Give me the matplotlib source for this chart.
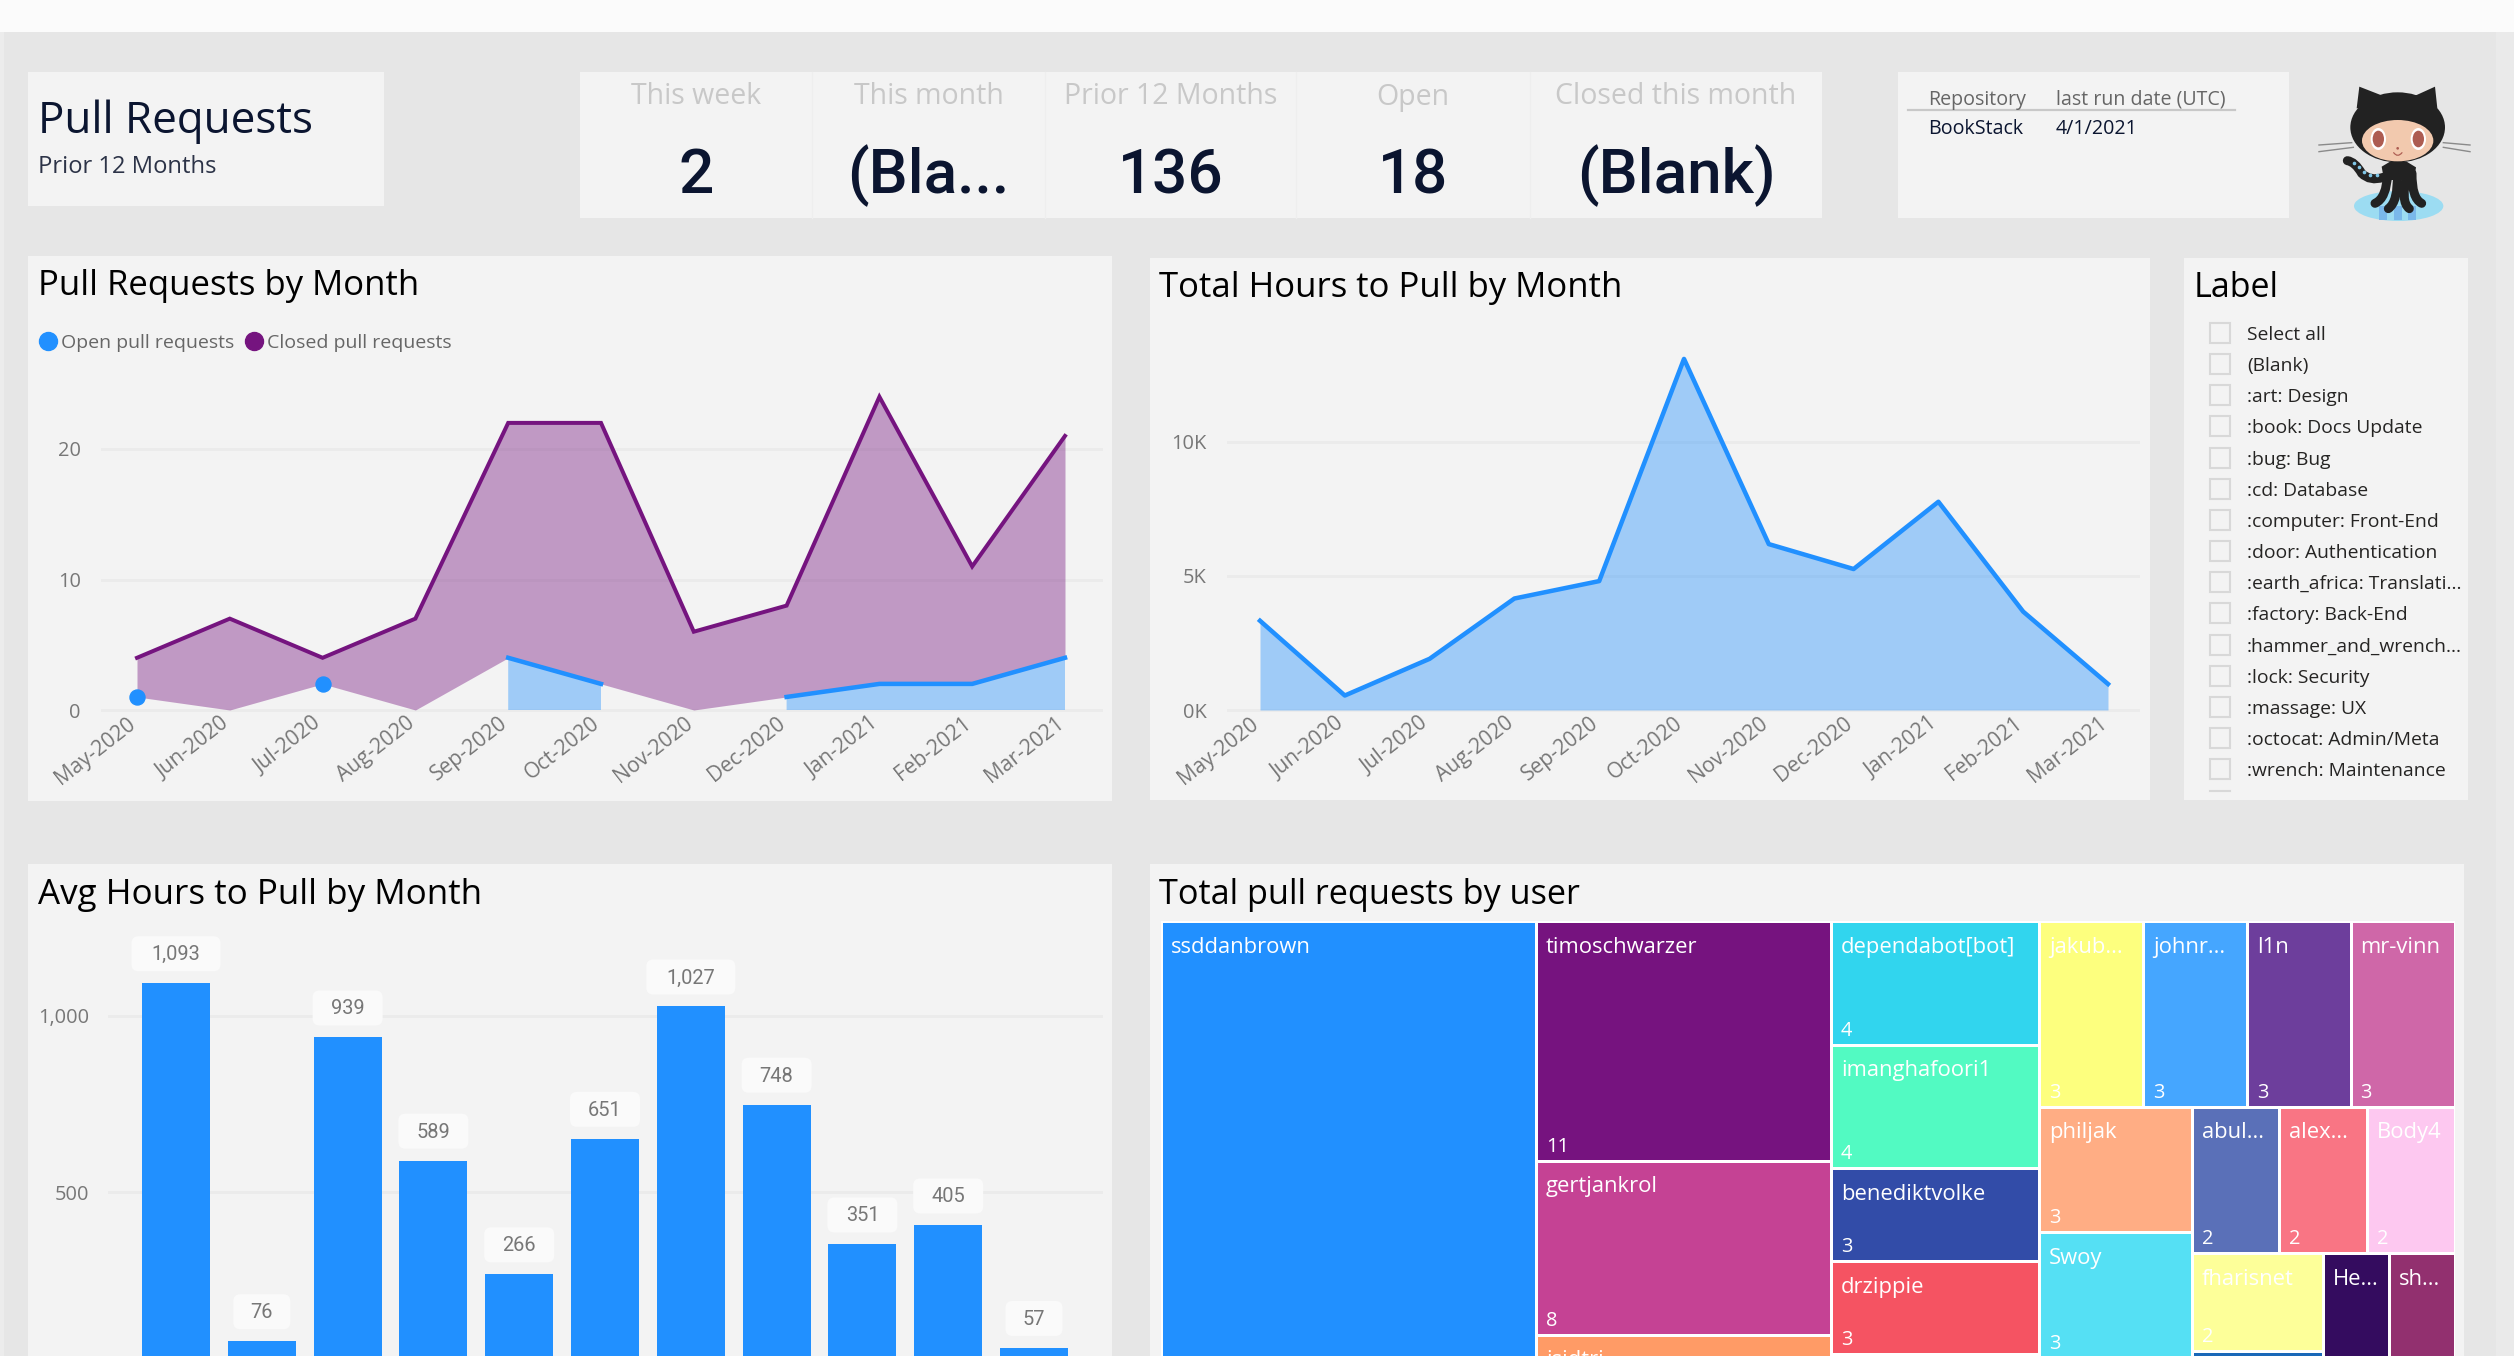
import numpy as np
import matplotlib
matplotlib.use('Agg')
import matplotlib.pyplot as plt
from matplotlib.patches import Rectangle, Ellipse, Polygon, PathPatch, FancyBboxPatch
from matplotlib.path import Path
from matplotlib.transforms import Affine2D, IdentityTransform

plt.rcParams['font.family'] = ['Open Sans', 'DejaVu Sans']

W, H = 2514, 1356

months = ['May-2020', 'Jun-2020', 'Jul-2020', 'Aug-2020', 'Sep-2020', 'Oct-2020',
          'Nov-2020', 'Dec-2020', 'Jan-2021', 'Feb-2021', 'Mar-2021']
closed_prs = [4, 7, 4, 7, 22, 22, 6, 8, 24, 11, 21]
open_prs = [1, np.nan, 2, np.nan, 4, 2, np.nan, 1, 2, 2, 4]
total_hours = [3330, 540, 1910, 4160, 4810, 13100, 6190, 5260, 7770, 3670, 970]
avg_hours = [1093, 76, 939, 589, 266, 651, 1027, 748, 351, 405, 57]

kpi_titles = ['This week', 'This month', 'Prior 12 Months', 'Open', 'Closed this month']
kpi_values = ['2', '(Bla...', '136', '18', '(Blank)']

slicer_items = ['Select all', '(Blank)', ':art: Design', ':book: Docs Update', ':bug: Bug',
                ':cd: Database', ':computer: Front-End', ':door: Authentication',
                ':earth_africa: Translati...', ':factory: Back-End', ':hammer_and_wrench...',
                ':lock: Security', ':massage: UX', ':octocat: Admin/Meta', ':wrench: Maintenance']

users = ['ssddanbrown', 'timoschwarzer', 'gertjankrol', 'isidtri', 'dependabot[bot]',
         'imanghafoori1', 'benediktvolke', 'drzippie', '', 'jakub...', 'johnr...', 'l1n',
         'mr-vinn', 'philjak', 'Swoy', '', 'abul...', 'alex...', 'Body4', 'fharisnet', '',
         'He...', 'sh...']
user_counts = [28, 11, 8, 3, 4, 4, 3, 3, 1.5, 3, 3, 3, 3, 3, 3, 1, 2, 2, 2, 2, 1, 1.5, 1.5]
user_colors = ['#2190ff', '#76137f', '#c54294', '#ff9b66', '#31d5ee', '#52fac2', '#324ca8',
               '#f55362', '#fbd0ee', '#fdff7e', '#45a6ff', '#6d3e9c', '#cf67a8', '#ffad84',
               '#55e0f4', '#2b9fb0', '#5a70b8', '#f97584', '#fdc8f0', '#fdff99', '#1a68b8',
               '#340c5f', '#92306f']
# columns and rows of the treemap, as indexes into users
user_tree = [0, [1, 2, 3], [4, 5, 6, 7, 8],
             [[9, 10, 11, 12], [[13, 14, 15], [[16, 17, 18], [[19, 20], 21, 22]]]]]

BG = '#e6e6e6'
PANEL = '#f3f3f3'
BLUE = '#2190ff'
PURPLE = '#75147f'
NAVY = '#0b1530'
GREY = '#777777'
GRID = '#ebebeb'


def px(n):
    return n * 0.72


fig = plt.figure(figsize=(W / 100, H / 100), dpi=100, facecolor=BG)
page = fig.add_axes([0, 0, 1, 1], zorder=0)
page.set_xlim(0, W)
page.set_ylim(H, 0)
page.axis('off')


def box(x0, y0, x1, y1, color=PANEL, **kw):
    page.add_patch(Rectangle((x0, y0), x1 - x0, y1 - y0, fc=color, ec='none', **kw))


def label(x, y, s, size, color='black', ha='left', **kw):
    page.text(x, y, s, fontsize=px(size), color=color, ha=ha, va='center', **kw)


def px_axes(x0, y0, x1, y1, zorder=2):
    ax = fig.add_axes([x0 / W, 1 - y1 / H, (x1 - x0) / W, (y1 - y0) / H], zorder=zorder)
    ax.patch.set_alpha(0)
    for s in ax.spines.values():
        s.set_visible(False)
    return ax


def month_axes(x0, y0, x1, y1, first, last, per_px, zero_y):
    # first/last: pixel x of the first and last month, per_px: value units per pixel
    ax = px_axes(x0, y0, x1, y1)
    step = (last - first) / (len(months) - 1)
    ax.set_xlim((x0 - first) / step, (x1 - first) / step)
    ax.set_ylim((zero_y - y1) * per_px, (zero_y - y0) * per_px)
    ax.grid(axis='y', color=GRID, lw=px(3))
    ax.set_axisbelow(True)
    ax.tick_params(length=0, labelcolor=GREY, labelsize=px(20), pad=px(20))
    return ax


def month_ticks(ax):
    ax.set_xticks(range(len(months)))
    ax.set_xticklabels(months, rotation=38, ha='right', rotation_mode='anchor', fontsize=px(21))
    ax.tick_params(axis='x', pad=px(9))
    shift = Affine2D().translate(-10, 8)
    for t in ax.get_xticklabels():
        t.set_transform(t.get_transform() + shift)


# page chrome
box(0, 0, W, 32, '#fbfbfb')
box(0, 32, 4, H, '#ececec')
box(2496, 32, W, H, '#eaeaea')

# header cards
box(28, 72, 384, 206)
label(38, 122, 'Pull Requests', 44, NAVY)
label(38, 167, 'Prior 12 Months', 23.7, '#2c3347')

kpi_edges = [580, 812, 1045, 1296, 1530, 1822]
for i in range(len(kpi_titles)):
    box(kpi_edges[i], 72, kpi_edges[i + 1], 218)
    if i:
        page.plot([kpi_edges[i]] * 2, [72, 218], color='#eeeeee', lw=1)
    mid = (kpi_edges[i] + kpi_edges[i + 1]) / 2
    label(mid, 97, kpi_titles[i], 28.5, '#c8c8c8', ha='center')
    label(mid, 176, kpi_values[i], 62, NAVY, ha='center', family=['Roboto', 'DejaVu Sans'], weight='medium')

box(1898, 72, 2289, 218)
page.plot([1908, 2235], [110, 110], color='#c8c8c8', lw=1.6)
label(1928, 100, 'Repository', 19.6, '#666666')
label(2056, 100, 'last run date (UTC)', 19.6, '#666666')
label(1928, 129, 'BookStack', 19.6, NAVY)
label(2056, 129, '4/1/2021', 19.6, NAVY)


# octocat
def cat(X, Y):
    return 2290 + X / 3, 70 + Y / 3


def cat_ell(X, Y, rx, ry, color):
    page.add_patch(Ellipse(cat(X, Y), 2 * rx / 3, 2 * ry / 3, fc=color, ec='none'))


def cat_curve(pts, lw, color='#222222', cap='round'):
    verts = [cat(*p) for p in pts]
    codes = [Path.MOVETO] + [Path.CURVE3] * (len(verts) - 1)
    page.add_patch(PathPatch(Path(verts, codes), fc='none', ec=color, lw=px(lw), capstyle=cap))


cat_ell(326, 408, 134, 45, '#9cdcf2')
for sx in [280, 325, 365]:
    page.add_patch(Rectangle(cat(sx - 12, 408), 8, 14, fc='#7ab8ea', ec='none'))
for a, b in [((185, 218), (87, 225)), ((190, 232), (87, 245)), ((460, 218), (540, 225)), ((460, 232), (540, 245))]:
    page.plot(*zip(cat(*a), cat(*b)), color='#8a8a8a', lw=1)
cat_curve([(280, 322), (240, 335), (215, 310), (195, 275), (172, 272)], 9)
for k in range(5):
    pts = [(262, 314), (240, 314), (222, 306), (208, 292), (192, 280)]
    page.plot(*cat(*pts[k]), 'o', color='#7fc6e8', ms=1.6)
page.add_patch(Polygon([cat(*p) for p in [(275, 290), (300, 275), (350, 275), (378, 292), (372, 330), (282, 330)]],
                       fc='#222222', ec='none'))
cat_curve([(293, 310), (290, 385), (255, 400)], 9)
cat_curve([(322, 310), (325, 395), (295, 416)], 9)
cat_curve([(352, 310), (330, 395), (358, 416)], 9)
cat_curve([(366, 310), (365, 385), (395, 400)], 9)
page.add_patch(Polygon([cat(*p) for p in [(200, 115), (208, 50), (272, 75), (380, 75), (435, 50), (442, 115)]],
                       fc='#222222', ec='none', joinstyle='round'))
cat_ell(323, 172, 142, 105, '#222222')
cat_ell(323, 212, 107, 62, '#f2c9ae')
for ex in [265, 385]:
    cat_ell(ex, 207, 23, 33, 'white')
    cat_ell(ex, 207, 17, 25, '#ad5c51')
cat_ell(323, 235, 4, 4, '#ad5c51')
cat_curve([(311, 248), (323, 264), (336, 248)], 1.2, '#ad5c51')

# Pull Requests by Month
box(28, 256, 1112, 801)
label(38, 286, 'Pull Requests by Month', 34.8)
page.plot(48, 341, 'o', color=BLUE, ms=px(18))
label(61, 343, 'Open pull requests', 19.5, '#666666')
page.plot(254, 341, 'o', color=PURPLE, ms=px(18))
label(267, 343, 'Closed pull requests', 19.5, '#666666')

ax1 = month_axes(101, 300, 1103, 712, 137, 1065, 10 / 130.5, 710)
x = np.arange(len(months))
opens = np.array(open_prs, dtype=float)
ax1.fill_between(x, np.nan_to_num(opens), closed_prs, color=PURPLE, alpha=0.4, lw=0)
ax1.fill_between(x, 0, opens, color=BLUE, alpha=0.4, lw=0)
ax1.plot(x, closed_prs, color=PURPLE, lw=px(4), solid_joinstyle='miter', clip_on=False)
ax1.plot(x, opens, color=BLUE, lw=px(4.5), clip_on=False)
lone = [i for i in x if not np.isnan(opens[i])
        and (i == 0 or np.isnan(opens[i - 1])) and (i == len(x) - 1 or np.isnan(opens[i + 1]))]
ax1.plot(lone, opens[lone], 'o', color=BLUE, ms=px(15), clip_on=False)
ax1.set_yticks([0, 10, 20])
month_ticks(ax1)

# Total Hours to Pull by Month
box(1150, 258, 2150, 800)
label(1159, 288, 'Total Hours to Pull by Month', 34.8)
ax2 = month_axes(1227, 300, 2140, 712, 1260, 2108, 5000 / 134, 710)
ax2.fill_between(x, 0, total_hours, color=BLUE, alpha=0.4, lw=0)
ax2.plot(x, total_hours, color=BLUE, lw=px(4.5), clip_on=False)
ax2.set_yticks([0, 5000, 10000])
ax2.set_yticklabels(['0K', '5K', '10K'])
month_ticks(ax2)

# Label slicer
box(2184, 258, 2468, 800)
label(2194, 288, 'Label', 34)
for i, item in enumerate(slicer_items):
    yc = 333 + i * 31.15
    page.add_patch(Rectangle((2209.5, yc - 10), 20, 20, fc='none', ec='#d8d8d8', lw=1.5))
    label(2247, yc + 2, item, 19.3, '#252423')
page.plot([2209.5, 2230], [791, 791], color='#d8d8d8', lw=1.5)

# Avg Hours to Pull by Month
box(28, 864, 1112, H)
label(38, 895, 'Avg Hours to Pull by Month', 35)
ax3 = month_axes(108, 900, 1103, 1368, 176, 1034, 1 / 0.352, 1368)
ax3.bar(x, avg_hours, width=68 / 85.8, color=BLUE)
ax3.set_yticks([500, 1000])
ax3.set_yticklabels(['500', '1,000'])
ax3.set_xticks([])
ax3.tick_params(axis='y', pad=px(19))
for i, v in enumerate(avg_hours):
    text = f'{v:,}'
    wid = {2: 57, 3: 70}.get(len(text), 89)
    cx, cy = ax3.transData.transform((i, v))
    # pill sits 12 px above the bar, 35 px tall
    ax3.add_patch(FancyBboxPatch((cx - wid / 2 + 6, cy + 12 + 6), wid - 12, 23, boxstyle='round,pad=6,rounding_size=7',
                                 fc='#fafafa', ec='none', transform=IdentityTransform(), clip_on=False, zorder=4))
    ax3.annotate(text, (i, v), xytext=(0, px(28.5)), textcoords='offset points', ha='center', va='center', zorder=5,
                 fontsize=px(20), color=GREY, family=['Roboto', 'DejaVu Sans'])

# Total pull requests by user
box(1150, 864, 2464, H)
label(1159, 895, 'Total pull requests by user', 34.3)
ax4 = px_axes(1160.5, 921.5, 2454.5, 1400)
ax4.set_xticks([])
ax4.set_yticks([])


def node_size(node):
    if isinstance(node, list):
        return sum(node_size(n) for n in node)
    return user_counts[node]


def draw_tree(ax, node, x0, y0, x1, y1, across):
    if not isinstance(node, list):
        ax.add_patch(Rectangle((x0, y0), x1 - x0, y1 - y0, fc=user_colors[node], ec='white', lw=px(3)))
        if users[node]:
            ax.annotate(users[node], (x0, y0), xytext=(px(10), -px(26)), textcoords='offset points',
                        va='center', color='white', fontsize=px(22), annotation_clip=False)
            # values below the page edge are not shown in the reference either
            if ax.transData.transform((x0, y1))[1] + 14 > 0:
                ax.annotate(f'{user_counts[node]:g}', (x0, y1), xytext=(px(10), px(14)), textcoords='offset points',
                            va='center', color='white', fontsize=px(20), annotation_clip=False)
        return
    total = node_size(node)
    pos = x0 if across else y0
    for child in node:
        share = node_size(child) / total
        if across:
            end = pos + (x1 - x0) * share
            draw_tree(ax, child, pos, y0, end, y1, False)
        else:
            end = pos + (y1 - y0) * share
            draw_tree(ax, child, x0, pos, x1, end, True)
        pos = end


ax4.set_xlim(0, node_size(user_tree))
ax4.set_ylim(1, 0)
draw_tree(ax4, user_tree, 0, 0, node_size(user_tree), 1, True)

fig.savefig('out.png', dpi=100, facecolor=BG)
